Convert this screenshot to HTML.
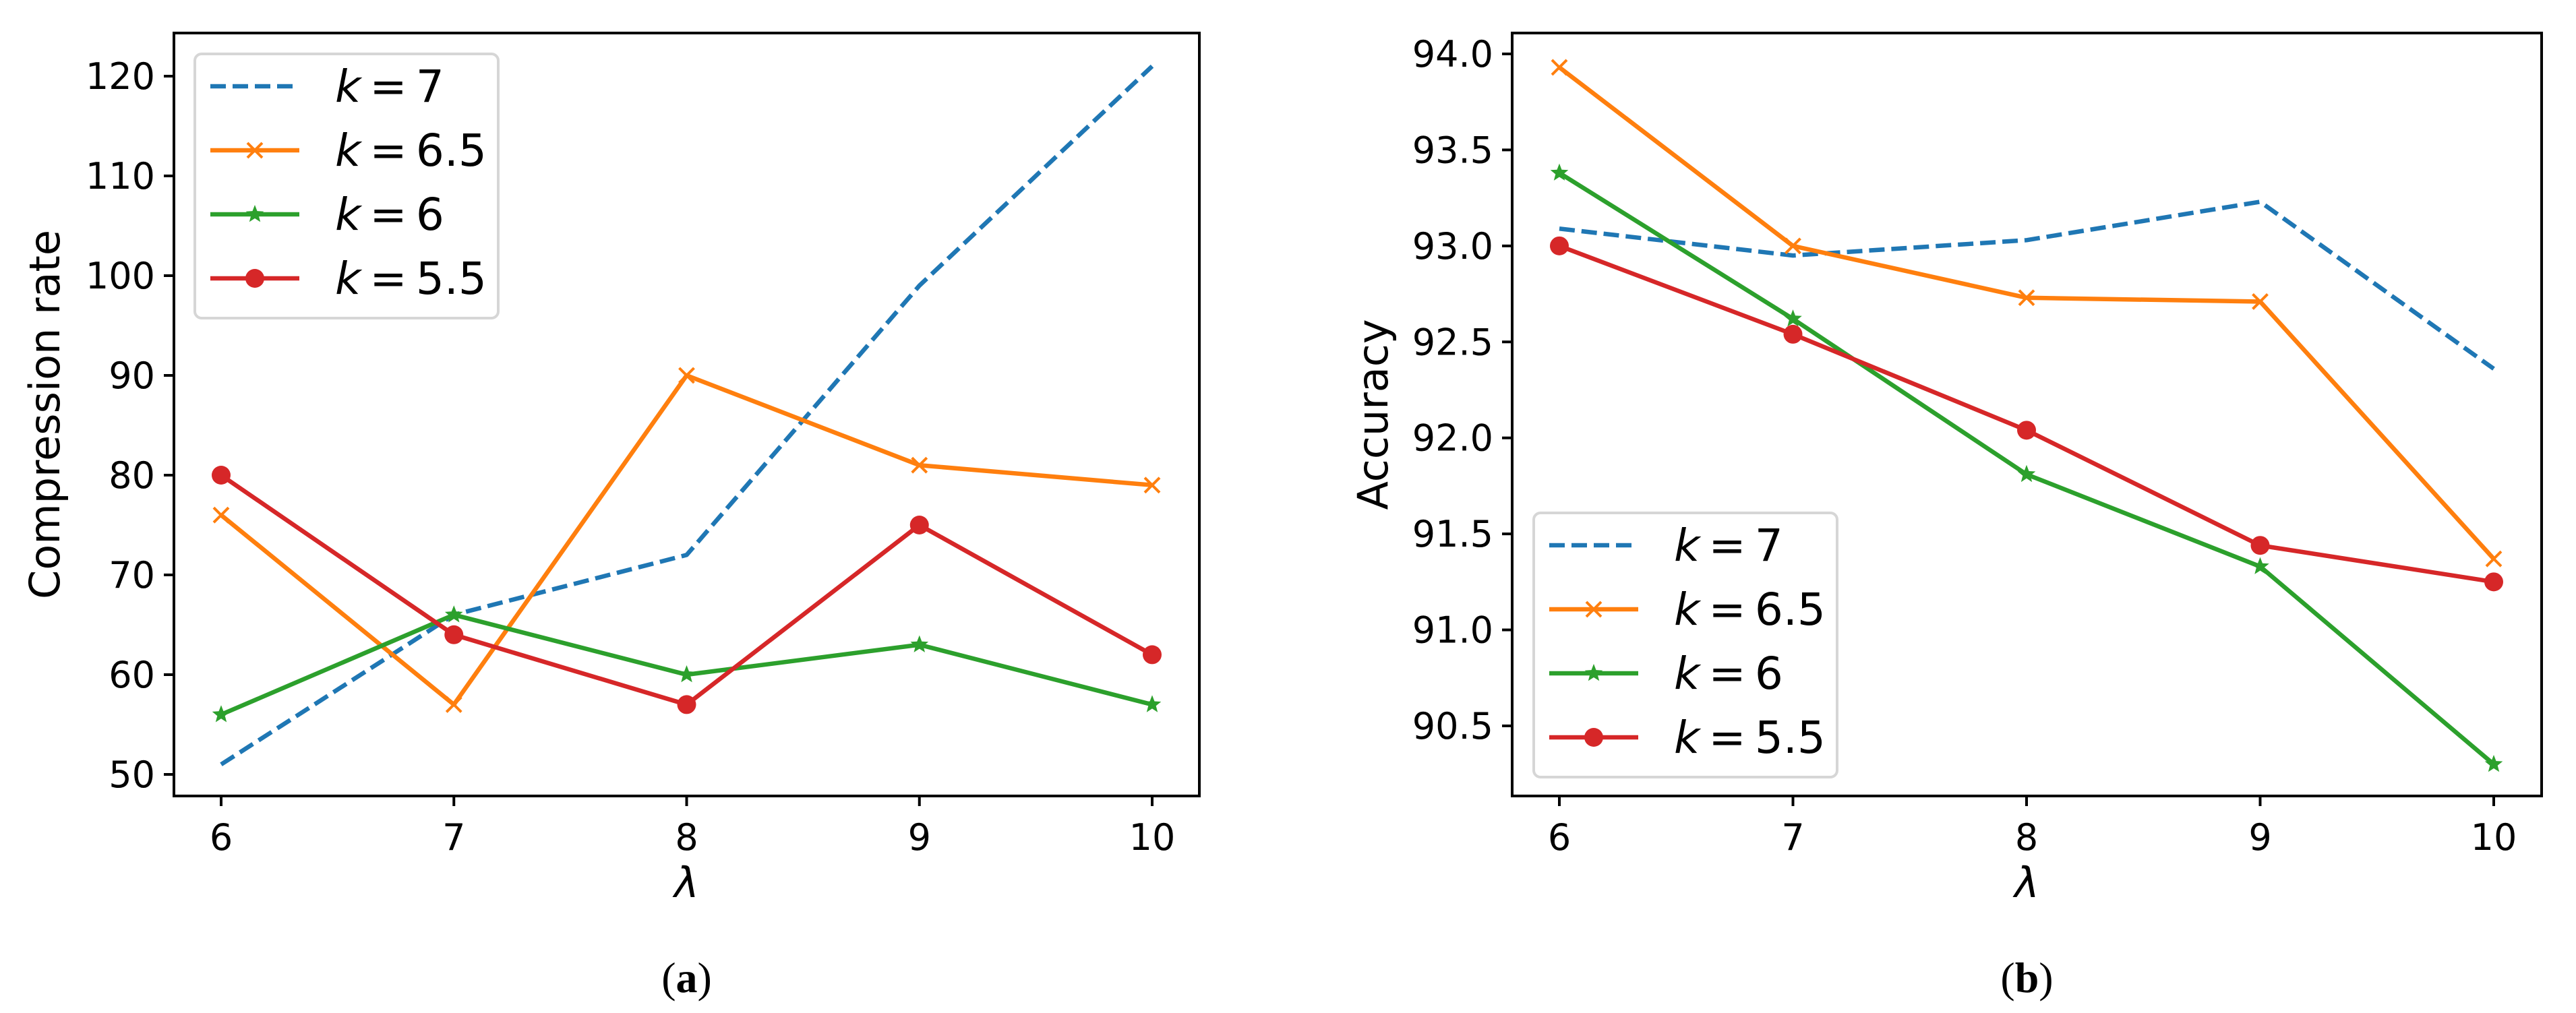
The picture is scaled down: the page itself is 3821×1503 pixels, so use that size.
<!DOCTYPE html>
<html><head><meta charset="utf-8"><style>
html,body{margin:0;padding:0;background:#fff;}
svg{display:block;font-family:"DejaVu Sans","Liberation Sans",sans-serif;}
</style></head><body>
<svg id="fig" width="3821" height="1503" viewBox="0 0 3821 1503" xmlns="http://www.w3.org/2000/svg"></svg>
<script>
const lambdas = [6, 7, 8, 9, 10];
const seriesLabels = ["7", "6.5", "6", "5.5"];
const compK7 = [51, 66, 72, 99, 121];
const compK65 = [76, 57, 90, 81, 79];
const compK6 = [56, 66, 60, 63, 57];
const compK55 = [80, 64, 57, 75, 62];
const accK7 = [93.09, 92.95, 93.03, 93.23, 92.36];
const accK65 = [93.93, 93.0, 92.73, 92.71, 91.37];
const accK6 = [93.38, 92.62, 91.81, 91.33, 90.30];
const accK55 = [93.0, 92.54, 92.04, 91.44, 91.25];
const compTicks = [50, 60, 70, 80, 90, 100, 110, 120];
const accTicks = [90.5, 91.0, 91.5, 92.0, 92.5, 93.0, 93.5, 94.0];

const NS = "http://www.w3.org/2000/svg";
const svg = document.getElementById("fig");
const colors = ["#1f77b4", "#ff7f0e", "#2ca02c", "#d62728"];
const markers = ["none", "x", "star", "circle"];

function mk(tag, attrs, parent) {
  const e = document.createElementNS(NS, tag);
  for (const k in attrs) e.setAttribute(k, attrs[k]);
  (parent || svg).appendChild(e);
  return e;
}
function drawMarker(g, type, x, y, c) {
  let m;
  if (type === "circle") {
    m = mk("circle", {cx: x, cy: y, r: 14, fill: c}, g);
  } else if (type === "x") {
    const s = 11;
    m = mk("path", {d: `M${x-s},${y-s}L${x+s},${y+s}M${x-s},${y+s}L${x+s},${y-s}`, stroke: c, "stroke-width": 4, fill: "none"}, g);
  } else if (type === "star") {
    let d = "";
    for (let i = 0; i < 10; i++) {
      const r = i % 2 ? 6 : 14, a = -Math.PI / 2 + i * Math.PI / 5;
      d += (i ? "L" : "M") + (x + r * Math.cos(a)).toFixed(1) + "," + (y + r * Math.sin(a)).toFixed(1);
    }
    m = mk("path", {d: d + "Z", fill: c}, g);
  }
  if (m) {
    
    
  }
}

function panel(cfg) {
  const g = mk("g", {});
  
  
  const xs = v => cfg.x0 + (v - 6) * (cfg.x1 - cfg.x0) / 4;
  const ys = v => cfg.yA + (v - cfg.vA) * (cfg.yB - cfg.yA) / (cfg.vB - cfg.vA);
  cfg.series.forEach((vals, si) => {
    const sg = mk("g", {}, g);
    
    
    const pts = vals.map((v, i) => xs(lambdas[i]) + "," + ys(v)).join(" ");
    const attrs = {points: pts, fill: "none", stroke: colors[si], "stroke-width": 6.5, "stroke-linejoin": "round"};
    if (si === 0) attrs["stroke-dasharray"] = "23 10";
    const pl = mk("polyline", attrs, sg);
    
    
    vals.forEach((v, i) => drawMarker(sg, markers[si], xs(lambdas[i]), ys(v), colors[si]));
  });
  const fr = mk("rect", {x: cfg.bx0, y: cfg.by0, width: cfg.bx1 - cfg.bx0, height: cfg.by1 - cfg.by0, fill: "none", stroke: "#000", "stroke-width": 4}, g);
  
  
  lambdas.forEach(l => {
    const x = xs(l);
    const t = mk("line", {x1: x, x2: x, y1: cfg.by1, y2: cfg.by1 + 15, stroke: "#000", "stroke-width": 4}, g);
    
    
    const tx = mk("text", {x: x, y: cfg.by1 + 80, "font-size": 54, "text-anchor": "middle", fill: "#000"}, g);
    tx.textContent = l;
    
    
  });
  cfg.ticks.forEach(v => {
    const y = ys(v);
    const t = mk("line", {x1: cfg.bx0 - 15, x2: cfg.bx0, y1: y, y2: y, stroke: "#000", "stroke-width": 4}, g);
    
    
    const tx = mk("text", {x: cfg.bx0 - 28, y: y + 19, "font-size": 54, "text-anchor": "end", fill: "#000"}, g);
    tx.textContent = cfg.fmt(v);
    
    
  });
  const xl = mk("text", {x: (cfg.bx0 + cfg.bx1) / 2, y: cfg.by1 + 150, "font-size": 62, "text-anchor": "middle", "font-style": "italic", fill: "#000"}, g);
  xl.textContent = "λ";
  
  
  const yl = mk("text", {x: 0, y: 0, "font-size": 62, "text-anchor": "middle", fill: "#000", transform: `translate(${cfg.ytx},${(cfg.by0 + cfg.by1) / 2}) rotate(-90)`}, g);
  yl.textContent = cfg.ytitle;
  
  
  const lg = mk("g", {}, g);
  
  
  const lb = mk("rect", {x: cfg.lx, y: cfg.ly, width: 450, height: 392, rx: 10, fill: "#fff", "fill-opacity": 0.9, stroke: "#d6d6d6", "stroke-width": 4}, lg);
  
  
  seriesLabels.forEach((lab, si) => {
    const eg = mk("g", {}, lg);
    
    
    const cy = cfg.ly + 48 + si * 95;
    const attrs = {x1: cfg.lx + 23, x2: cfg.lx + 155, y1: cy, y2: cy, stroke: colors[si], "stroke-width": 6.5};
    if (si === 0) attrs["stroke-dasharray"] = "23 10";
    mk("line", attrs, eg);
    drawMarker(eg, markers[si], cfg.lx + 89, cy, colors[si]);
    const t = mk("text", {x: cfg.lx + 208, y: cy + 23, "font-size": 66, fill: "#000"}, eg);
    t.innerHTML = '<tspan font-style="italic">k</tspan>\u2009=\u2009' + lab;
  });
  const cap = mk("text", {x: (cfg.bx0 + cfg.bx1) / 2, y: 1472, "font-size": 64, "text-anchor": "middle", "font-family": "Liberation Serif, serif", fill: "#000"}, g);
  cap.innerHTML = '(<tspan font-weight="bold">' + cfg.cap + '</tspan>)';
  
  
}

panel({name: "compression-rate-chart", x0: 328, x1: 1709, bx0: 258, bx1: 1779, by0: 49, by1: 1181,
  vA: 120, yA: 113, vB: 50, yB: 1149, ticks: compTicks, fmt: v => String(v),
  series: [compK7, compK65, compK6, compK55], ytitle: "Compression rate", ytx: 88,
  lx: 289, ly: 80, cap: "a"});
panel({name: "accuracy-chart", x0: 2313, x1: 3699, bx0: 2243, bx1: 3770, by0: 49, by1: 1181,
  vA: 94, yA: 80, vB: 90.5, yB: 1077, ticks: accTicks, fmt: v => v.toFixed(1),
  series: [accK7, accK65, accK6, accK55], ytitle: "Accuracy", ytx: 2058,
  lx: 2275, ly: 761, cap: "b"});
</script>
</body></html>
